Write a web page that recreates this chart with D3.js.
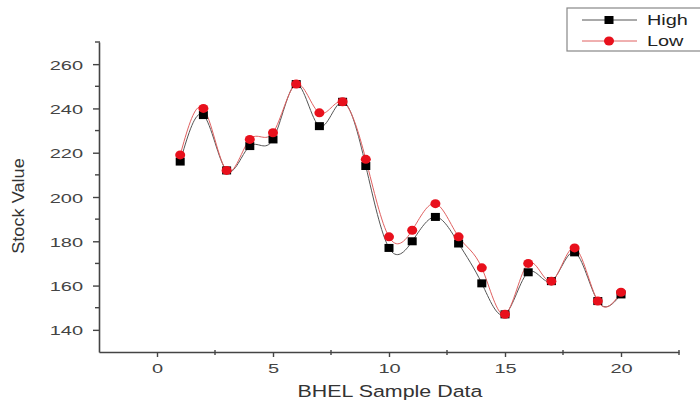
<!DOCTYPE html>
<html>
<head>
<meta charset="utf-8">
<script src="https://cdn.jsdelivr.net/npm/d3@7"></script>
<style>
  body { margin: 0; background: #fff; }
  text { font-family: "Liberation Sans", Arial, sans-serif; }
</style>
</head>
<body>
<script>
  // sample index on the x axis
  let samples = [1, 2, 3, 4, 5, 6, 7, 8, 9, 10, 11, 12, 13, 14, 15, 16, 17, 18, 19, 20];
  // high and low stock values
  let highValues = [216, 237, 212, 223, 226, 251, 232, 243, 214, 177, 180, 191, 179, 161, 147, 166, 162, 175, 153, 156];
  let lowValues = [219, 240, 212, 226, 229, 251, 238, 243, 217, 182, 185, 197, 182, 168, 147, 170, 162, 177, 153, 157];
  let xTicks = [0, 5, 10, 15, 20];
  let yTicks = [140, 160, 180, 200, 220, 240, 260];
  let seriesNames = ["High", "Low"];

  let svg = d3.select('body')
    .append('svg')
      .attr('width', 700)
      .attr('height', 409);

  // the source picture is squashed vertically, so text gets a horizontal stretch
  let tickStretch = 1.6;

  let xScale = d3.scaleLinear()
    .domain([-2.5, 22.5])
    .range([99, 679]);
  let yScale = d3.scaleLinear()
    .domain([130, 270])
    .range([352, 42]);

  let axisColor = '#444';

  // x axis with major ticks pointing down
  let xAxis = d3.axisBottom(xScale).tickValues(xTicks).tickSize(5).tickSizeOuter(0).tickPadding(6);
  let gx = svg.append('g')
    .attr('transform', 'translate(0, 352)')
    .call(xAxis);
  gx.select('.domain').attr('stroke', axisColor).attr('stroke-width', 1.6);
  gx.selectAll('.tick line').attr('stroke', axisColor).attr('stroke-width', 1.4);
  gx.selectAll('.tick text')
    .attr('fill', '#444')
    .attr('y', 0)
    .attr('dy', 0)
    .attr('transform', 'translate(0, 21) scale(' + tickStretch + ', 1)')
    .style('font-size', '12.5px');

  // minor ticks on x
  svg.append('g').selectAll('line')
    .data([2.5, 7.5, 12.5, 17.5, 22.5])
    .enter()
    .append('line')
      .attr('x1', (d) => xScale(d))
      .attr('x2', (d) => xScale(d))
      .attr('y1', 350)
      .attr('y2', 355)
      .attr('stroke', axisColor)
      .attr('stroke-width', 1.4);

  // y axis with major ticks pointing left
  let yAxis = d3.axisLeft(yScale).tickValues(yTicks).tickSize(6).tickSizeOuter(0).tickPadding(6);
  let gy = svg.append('g')
    .attr('transform', 'translate(99, 0)')
    .call(yAxis);
  gy.select('.domain').attr('stroke', axisColor).attr('stroke-width', 1.6);
  gy.selectAll('.tick line').attr('stroke', axisColor).attr('stroke-width', 1.4);
  gy.selectAll('.tick text')
    .attr('fill', '#444')
    .attr('x', 0)
    .attr('transform', 'translate(-16, 1) scale(' + tickStretch + ', 1)')
    .style('font-size', '12.5px');

  // minor ticks on y
  svg.append('g').selectAll('line')
    .data([150, 170, 190, 210, 230, 250, 270])
    .enter()
    .append('line')
      .attr('x1', 95)
      .attr('x2', 100)
      .attr('y1', (d) => yScale(d))
      .attr('y2', (d) => yScale(d))
      .attr('stroke', axisColor)
      .attr('stroke-width', 1.4);

  // axis titles
  svg.append('text')
    .attr('transform', 'translate(390, 397) scale(1.26, 1)')
    .attr('text-anchor', 'middle')
    .attr('fill', '#333')
    .style('font-size', '17px')
    .text('BHEL Sample Data');

  svg.append('text')
    .attr('transform', 'translate(24, 206) rotate(-90) scale(1.07, 1)')
    .attr('text-anchor', 'middle')
    .attr('fill', '#333')
    .style('font-size', '17px')
    .text('Stock Value');

  // smooth connecting lines
  let line = d3.line()
    .x((d) => xScale(d[0]))
    .y((d) => yScale(d[1]))
    .curve(d3.curveNatural);

  let highPts = samples.map((s, i) => [s, highValues[i]]);
  let lowPts = samples.map((s, i) => [s, lowValues[i]]);

  svg.append('path')
    .attr('d', line(highPts))
    .attr('fill', 'none')
    .attr('stroke', '#555')
    .attr('stroke-width', 1);

  svg.append('path')
    .attr('d', line(lowPts))
    .attr('fill', 'none')
    .attr('stroke', '#e06060')
    .attr('stroke-width', 1);

  // markers: black squares for High, red circles for Low
  svg.selectAll('.high')
    .data(highPts)
    .enter()
    .append('rect')
      .attr('class', 'high')
      .attr('x', (d) => xScale(d[0]) - 4.5)
      .attr('y', (d) => yScale(d[1]) - 4)
      .attr('width', 9)
      .attr('height', 8)
      .attr('fill', '#000');

  svg.selectAll('.low')
    .data(lowPts)
    .enter()
    .append('ellipse')
      .attr('class', 'low')
      .attr('cx', (d) => xScale(d[0]))
      .attr('cy', (d) => yScale(d[1]))
      .attr('rx', 5)
      .attr('ry', 4.5)
      .attr('fill', '#e8101c');

  // legend, running off the right edge like the original
  let legend = svg.append('g');
  legend.append('rect')
    .attr('x', 567)
    .attr('y', 8)
    .attr('width', 140)
    .attr('height', 43)
    .attr('fill', '#fff')
    .attr('stroke', '#888')
    .attr('stroke-width', 1.2);

  let rows = legend.selectAll('.row')
    .data(seriesNames)
    .enter()
    .append('g')
      .attr('transform', (d, i) => 'translate(0,' + (20 + i * 21) + ')');

  rows.append('line')
    .attr('x1', 582)
    .attr('x2', 637)
    .attr('stroke', (d, i) => i == 0 ? '#555' : '#e06060')
    .attr('stroke-width', 1);

  rows.filter((d, i) => i == 0).append('rect')
    .attr('x', 604.5)
    .attr('y', -4)
    .attr('width', 9)
    .attr('height', 8)
    .attr('fill', '#000');

  rows.filter((d, i) => i == 1).append('ellipse')
    .attr('cx', 609)
    .attr('cy', 0)
    .attr('rx', 5)
    .attr('ry', 4.5)
    .attr('fill', '#e8101c');

  rows.append('text')
    .attr('transform', 'translate(647, 5) scale(1.42, 1)')
    .attr('fill', '#222')
    .style('font-size', '14px')
    .text((d) => d);
</script>
</body>
</html>
